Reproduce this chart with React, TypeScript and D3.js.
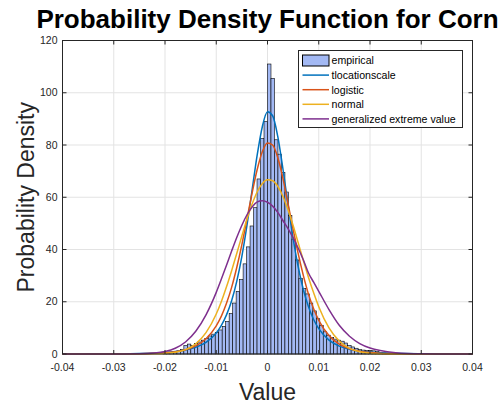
import React from "react";
import * as d3 from "d3";

// ---------- data ----------
const X_TICKS = [-0.04, -0.03, -0.02, -0.01, 0, 0.01, 0.02, 0.03, 0.04];
const Y_TICKS = [0, 20, 40, 60, 80, 100, 120];

const HIST_BIN_WIDTH = 0.00068;
const HIST_FIRST_EDGE = -0.0204;
const HIST_DENSITY = [
  0.2, 0.3, 0.5, 0.8, 1.2, 1.8, 3.2, 3.8, 3.3, 4.0, 4.6, 5.3, 6.0, 6.9, 7.6, 8.3, 9.2, 10.6,
  12.5, 15.5, 19.5, 24, 28.5, 34.5, 41, 49, 56, 67, 82.5, 89,
  111, 105.5, 82, 76.5, 69.5, 62, 53, 44, 36, 29, 25, 23, 19.5,
  16.5, 13.5, 11, 8.5, 7.2, 6.3, 5.7, 5.3, 4.9, 4.2, 3.3, 2.7, 2.2, 1.7, 1.5, 1.4, 1.3, 1.2, 0.9, 0.6, 0.4, 0.3,
];

const CURVE_X = [
  -0.04, -0.035, -0.03, -0.025, -0.022, -0.02, -0.018, -0.016, -0.014, -0.012, -0.01, -0.009, -0.008,
  -0.007, -0.006, -0.005, -0.004, -0.003, -0.002, -0.001, 0, 0.001, 0.002, 0.003, 0.004, 0.005, 0.006,
  0.007, 0.008, 0.009, 0.01, 0.012, 0.014, 0.016, 0.018, 0.02, 0.022, 0.025, 0.03, 0.035, 0.04,
];
const TLOC = [
  0.026, 0.049, 0.1, 0.23, 0.41, 0.62, 0.96, 1.54, 2.58, 4.48, 8.07, 10.97, 14.97,
  20.4, 27.8, 37.4, 49.3, 62.8, 76.3, 87.1, 92.7, 91.2, 83.3, 71.0, 57.3, 44.3, 33.3,
  24.6, 18.1, 13.2, 9.7, 5.33, 3.03, 1.79, 1.1, 0.7, 0.46, 0.26, 0.11, 0.053, 0.028,
];
const LOGISTIC = [
  0.001, 0.004, 0.018, 0.09, 0.24, 0.45, 0.86, 1.64, 3.1, 5.84, 10.8, 14.5, 19.4,
  25.5, 33.1, 41.9, 51.7, 61.7, 70.7, 77.5, 80.8, 80.0, 75.2, 67.3, 57.6, 47.7, 38.3,
  30.0, 22.9, 17.3, 12.9, 7.07, 3.75, 1.99, 1.05, 0.55, 0.29, 0.11, 0.02, 0.004, 0.001,
];
const NORMAL = [
  0, 0, 0, 0.009, 0.067, 0.22, 0.64, 1.67, 3.9, 8.17, 15.3, 20.1, 25.7,
  31.9, 38.5, 45.2, 51.7, 57.4, 62.1, 65.3, 66.7, 66.3, 64.2, 60.4, 55.2, 49.2, 42.5,
  35.8, 29.3, 23.4, 18.1, 9.98, 4.93, 2.18, 0.86, 0.3, 0.1, 0.014, 0, 0, 0,
];
const GEV = [
  0, 0, 0.004, 0.083, 0.39, 0.97, 2.21, 4.59, 8.69, 15.0, 23.6, 28.7, 34.0,
  39.4, 44.6, 49.3, 53.3, 56.3, 58.2, 58.7, 58.1, 56.6, 54.2, 51.1, 48.0, 44.5, 40.5,
  36.0, 31.0, 27.5, 24.0, 17.0, 11.0, 6.8, 4.0, 2.3, 1.3, 0.5, 0.08, 0.01, 0,
];

const SERIES = [
  { name: "tlocationscale", values: TLOC, color: "#0072BD" },
  { name: "logistic", values: LOGISTIC, color: "#D95319" },
  { name: "normal", values: NORMAL, color: "#EDB120" },
  { name: "generalized extreme value", values: GEV, color: "#7E2F8E" },
];

const TITLE = "Probability Density Function for Corn";
const X_LABEL = "Value";
const Y_LABEL = "Probability Density";

// ---------- layout ----------
const W = 504;
const H = 410;
const L = 62.5, R = 472.5, T = 40.5, B = 354;
const FONT = "'Liberation Sans', Arial, Helvetica, sans-serif";
const AX = "#262626";
const HIST_FILL = "#a3b9f4";

export default function App() {
  const x = d3.scaleLinear().domain([-0.04, 0.04]).range([L, R]);
  const y = d3.scaleLinear().domain([0, 120]).range([B, T]);

  const line = d3
    .line<number>()
    .x((_, i) => x(CURVE_X[i]))
    .y((v) => y(v))
    .curve(d3.curveMonotoneX);

  const fmt = (v: number) => (v === 0 ? "0" : v.toFixed(2));
  const tickLen = 4;

  const legX = 298.5, legY = 50.5, legW = 164, legH = 77;
  const rowH = 14.6;
  const legendItems = [{ name: "empirical", color: "" }, ...SERIES];

  return (
    <svg
      width={W}
      height={H}
      style={{ position: "absolute", left: 0, top: 0, background: "#fff" }}
      fontFamily={FONT}
    >
      <rect x={0} y={0} width={W} height={H} fill="#fff" />
      {/* grid */}
      {X_TICKS.map((t) => (
        <line key={"gx" + t} x1={x(t)} x2={x(t)} y1={T} y2={B} stroke="#e3e3e3" strokeWidth={1} />
      ))}
      {Y_TICKS.map((t) => (
        <line key={"gy" + t} x1={L} x2={R} y1={y(t)} y2={y(t)} stroke="#e3e3e3" strokeWidth={1} />
      ))}

      {/* histogram */}
      <g>
        {HIST_DENSITY.map((v, i) => {
          const x0 = HIST_FIRST_EDGE + i * HIST_BIN_WIDTH;
          const x1 = x0 + HIST_BIN_WIDTH;
          return (
            <rect
              key={"b" + i}
              x={x(x0)}
              y={y(v)}
              width={x(x1) - x(x0)}
              height={y(0) - y(v)}
              fill={HIST_FILL}
              stroke="#000"
              strokeWidth={0.6}
            />
          );
        })}
      </g>

      {/* curves */}
      {SERIES.map((s) => (
        <path key={s.name} d={line(s.values) || ""} fill="none" stroke={s.color} strokeWidth={1.5} />
      ))}

      {/* axes box */}
      <rect x={L} y={T} width={R - L} height={B - T} fill="none" stroke={AX} strokeWidth={1} />
      {X_TICKS.map((t) => (
        <g key={"tx" + t}>
          <line x1={x(t)} x2={x(t)} y1={B} y2={B - tickLen} stroke={AX} />
          <line x1={x(t)} x2={x(t)} y1={T} y2={T + tickLen} stroke={AX} />
          <text x={x(t)} y={370.5} fontSize={10.5} textAnchor="middle" fill={AX}>
            {fmt(t)}
          </text>
        </g>
      ))}
      {Y_TICKS.map((t) => (
        <g key={"ty" + t}>
          <line x1={L} x2={L + tickLen} y1={y(t)} y2={y(t)} stroke={AX} />
          <line x1={R} x2={R - tickLen} y1={y(t)} y2={y(t)} stroke={AX} />
          <text x={57.5} y={y(t) + 3.7} fontSize={10.5} textAnchor="end" fill={AX}>
            {t}
          </text>
        </g>
      ))}

      {/* labels */}
      <text x={(L + R) / 2} y={28} fontSize={26} fontWeight="bold" textAnchor="middle" fill="#000">
        {TITLE}
      </text>
      <text x={(L + R) / 2} y={400} fontSize={23} textAnchor="middle" fill={AX}>
        {X_LABEL}
      </text>
      <text
        transform={`translate(33.5, ${(T + B) / 2}) rotate(-90)`}
        fontSize={23}
        textAnchor="middle"
        fill={AX}
      >
        {Y_LABEL}
      </text>

      {/* legend */}
      <rect x={legX} y={legY} width={legW} height={legH} fill="#fff" stroke={AX} strokeWidth={1} />
      {legendItems.map((it, i) => {
        const cy = legY + 10 + i * rowH;
        return (
          <g key={"lg" + i}>
            {i === 0 ? (
              <rect x={302.5} y={cy - 5.5} width={26.5} height={11} fill={HIST_FILL} stroke="#000" strokeWidth={1} />
            ) : (
              <line x1={302.5} x2={329} y1={cy} y2={cy} stroke={it.color} strokeWidth={1.5} />
            )}
            <text x={331.5} y={cy + 3.8} fontSize={10.6} fill="#000">
              {it.name}
            </text>
          </g>
        );
      })}
    </svg>
  );
}
